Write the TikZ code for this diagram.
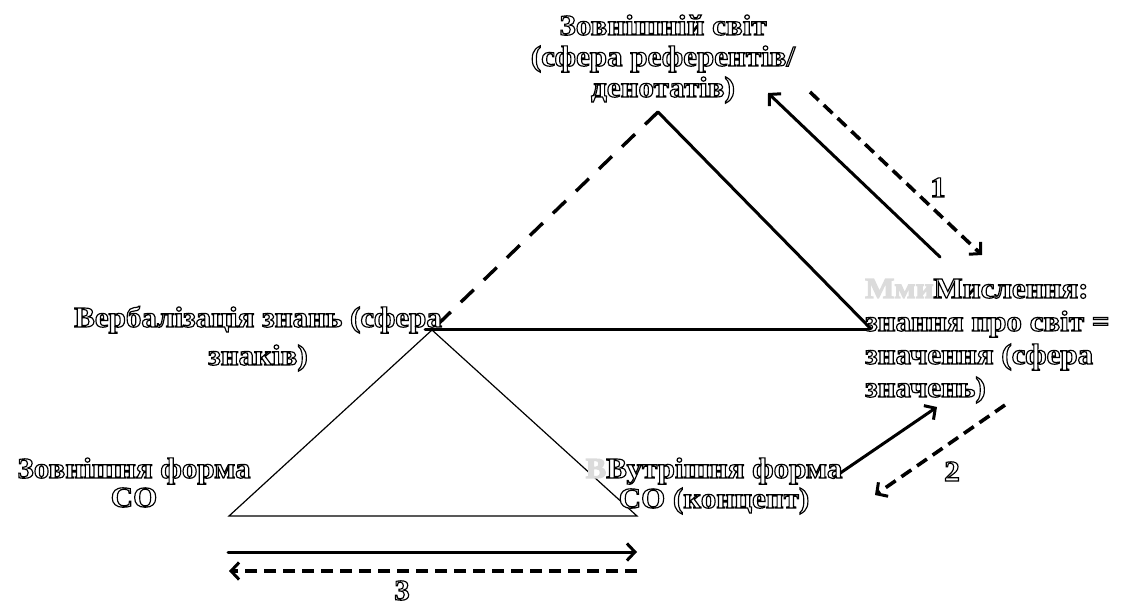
\documentclass[tikz,border=0pt]{standalone}
\usepackage{fontspec}
\setmainfont{Liberation Serif}
\newfontfamily\olfont[FakeBold=4,FakeStretch=1.07]{Liberation Serif Bold}
\usetikzlibrary{arrows.meta}

% hollow letters: white fill, black stroke (fill-and-stroke text mode)
\newcommand\outl[1]{{\special{pdf:bc [1] [0]}#1\special{pdf:ec}}}
% letters that are almost lost against the page
\newcommand\pale[1]{\textcolor{black!14}{#1}}

\tikzset{
  lbl/.style={inner sep=0pt},
  heavy/.style={line width=3pt, line cap=round},
  heavydash/.style={line width=3.6pt, dash pattern=on 12pt off 7pt},
  edgedash/.style={line width=3.4pt, dash pattern=on 18pt off 14pt},
  light/.style={line width=1.2pt},
  tip/.style={-{Straight Barb[length=8pt,width=17pt,line width=3pt]}},
}

\begin{document}
\begin{tikzpicture}[x=1pt,y=-1pt]
\useasboundingbox (0,0) rectangle (1125,601);

% vertices of the two triangles
\coordinate (world) at (658,112);
\coordinate (verb)  at (432,330);
\coordinate (mind)  at (872,330);
\coordinate (outer) at (229,516);
\coordinate (inner) at (637,516);

% upper triangle
\draw[edgedash] (world) -- (verb);
\draw[heavy] (world) -- (mind);
\draw[heavy] (425,330) -- (mind);

% lower triangle
\draw[light] (verb) -- (outer) -- (inner) -- cycle;

% pair 1
\coordinate (a1s) at (940,257);
\coordinate (a1e) at (768,93);
\coordinate (d1s) at (810,92);
\coordinate (d1e) at (982,255);
\draw[heavy, tip] (a1s) -- (a1e);
\draw[heavydash, tip] (d1s) -- (d1e);

% pair 2
\coordinate (a2s) at (833,478);
\coordinate (a2e) at (937,407);
\coordinate (d2s) at (1005,405);
\coordinate (d2e) at (875,495);
\draw[heavy, tip] (a2s) -- (a2e);
\draw[heavydash, tip] (d2s) -- (d2e);

% pair 3
\coordinate (a3s) at (228,552);
\coordinate (a3e) at (637,552);
\coordinate (d3s) at (637,571);
\coordinate (d3e) at (229,571);
\draw[heavy, tip] (a3s) -- (a3e);
\draw[heavydash, tip] (d3s) -- (d3e);

% labels (anchor = baseline of the last line)
\node[lbl, align=center, anchor=base, font=\olfont\fontsize{29}{31}\selectfont] (tworld) at (663,97)
  {\outl{Зовнішній світ}\\\outl{(сфера референтів/}\\\outl{денотатів)}};
\node[lbl, align=left, anchor=base west, font=\olfont\fontsize{29}{33}\selectfont] (tmind) at (865,397)
  {\pale{Мми}\outl{Мислення:}\\\outl{знання про світ =}\\\outl{значення (сфера}\\\outl{значень)}};
\node[lbl, align=center, anchor=base, font=\olfont\fontsize{29}{38}\selectfont] (tverb) at (258,365)
  {\outl{Вербалізація знань (сфера}\\\outl{знаків)}};
\node[lbl, align=center, anchor=base, font=\olfont\fontsize{29}{29}\selectfont] (touter) at (134,507)
  {\outl{Зовнішня форма}\\\outl{СО}};
\node[lbl, align=center, anchor=base, font=\olfont\fontsize{29}{30}\selectfont] (tinner) at (714,508)
  {\pale{В}\outl{Вутрішня форма}\\\outl{СО (концепт)}};

\node[lbl, anchor=base, font=\olfont\fontsize{29}{30}\selectfont] (n1) at (938,197) {\outl{1}};
\node[lbl, anchor=base, font=\olfont\fontsize{29}{30}\selectfont] (n2) at (952,481) {\outl{2}};
\node[lbl, anchor=base, font=\olfont\fontsize{29}{30}\selectfont] (n3) at (402,600) {\outl{3}};
\end{tikzpicture}
\end{document}
